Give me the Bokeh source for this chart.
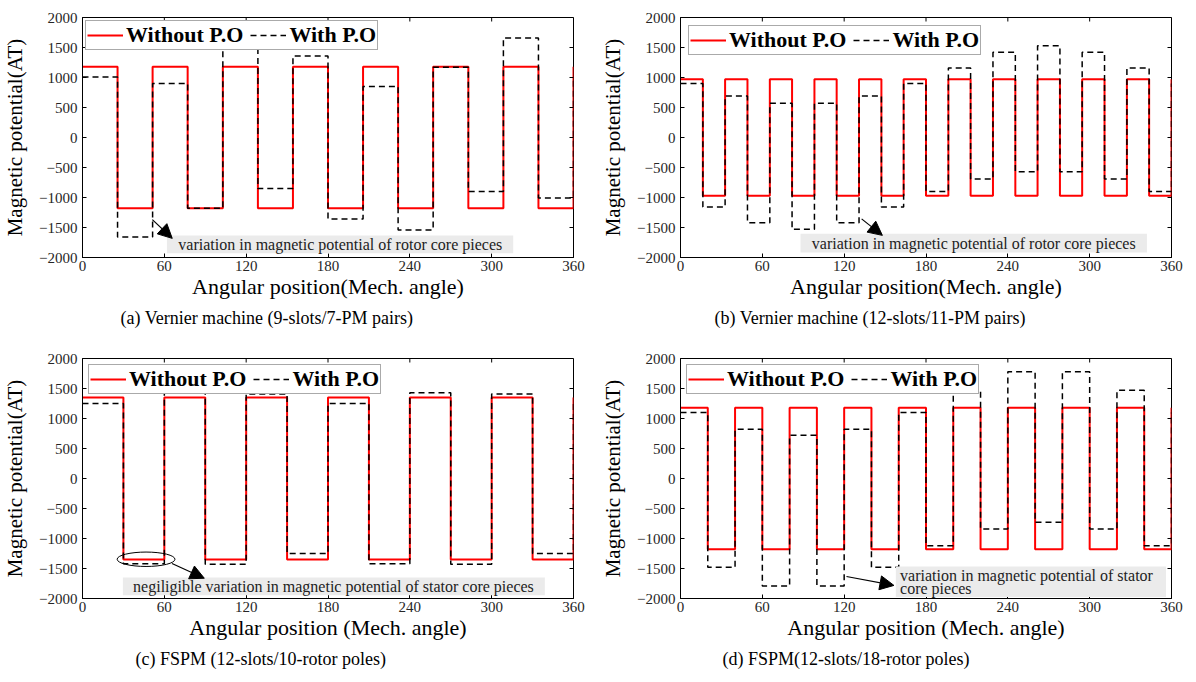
from bokeh.plotting import figure
from bokeh.models import (Legend, LegendItem, FixedTicker, Range1d, Title,
                          Arrow, NormalHead, BoxAnnotation, Label)
from bokeh.layouts import gridplot
from bokeh.embed import file_html
from bokeh.resources import INLINE

SERIF = "'Liberation Serif', serif"

# ---------------- data ----------------
X_TICKS = [0, 60, 120, 180, 240, 300, 360]
Y_TICKS = [-2000, -1500, -1000, -500, 0, 500, 1000, 1500, 2000]
LEGEND_LABELS = ["Without P.O", "With P.O"]
Y_LABEL = "Magnetic potential(AT)"

# (a) Vernier 9-slots/7-PM pairs
A_EDGES = [0, 25.7, 51.4, 77.1, 102.9, 128.6, 154.3, 180, 205.7, 231.4, 257.1,
           282.9, 308.6, 334.3, 360]
A_RED = [1180, -1180, 1180, -1180, 1180, -1180, 1180, -1180, 1180, -1180, 1180,
         -1180, 1180, -1180]
A_BLACK = [1010, -1660, 900, -1180, 1540, -850, 1360, -1360, 850, -1540, 1170,
           -900, 1660, -1010]

# (b) Vernier 12-slots/11-PM pairs
B_EDGES = [0, 16.4, 32.7, 49.1, 65.5, 81.8, 98.2, 114.5, 130.9, 147.3, 163.6, 180,
           196.4, 212.7, 229.1, 245.5, 261.8, 278.2, 294.5, 310.9, 327.3, 343.6, 360]
B_RED = [970, -970, 970, -970, 970, -970, 970, -970, 970, -970, 970, -970,
         970, -970, 970, -970, 970, -970, 970, -970, 970, -970]
B_BLACK = [900, -1160, 690, -1420, 570, -1530, 570, -1420, 690, -1160, 900,
           -900, 1160, -690, 1420, -570, 1530, -570, 1420, -690, 1160, -900]

# (c) FSPM 12-slots/10-rotor poles
C_EDGES = [0, 30, 60, 90, 120, 150, 180, 210, 240, 270, 300, 330, 360]
C_RED = [1350, -1350, 1350, -1350, 1350, -1350, 1350, -1350, 1350, -1350, 1350, -1350]
C_BLACK = [1250, -1420, 1430, -1430, 1410, -1250, 1250, -1420, 1430, -1430, 1410, -1250]

# (d) FSPM 12-slots/18-rotor poles
D_EDGES = [0, 20, 40, 60, 80, 100, 120, 140, 160, 180, 200, 220, 240, 260, 280,
           300, 320, 340, 360]
D_RED = [1180, -1180, 1180, -1180, 1180, -1180, 1180, -1180, 1180, -1180, 1180,
         -1180, 1180, -1180, 1180, -1180, 1180, -1180]
D_BLACK = [1100, -1480, 820, -1790, 720, -1790, 820, -1480, 1100, -1120, 1470,
           -840, 1780, -730, 1780, -840, 1470, -1120]

CAPTIONS = ["(a) Vernier machine (9-slots/7-PM pairs)",
            "(b) Vernier machine (12-slots/11-PM pairs)",
            "(c) FSPM (12-slots/10-rotor poles)",
            "(d) FSPM(12-slots/18-rotor poles)"]
X_LABELS = ["Angular position(Mech. angle)", "Angular position(Mech. angle)",
            "Angular position (Mech. angle)", "Angular position (Mech. angle)"]

TICK_PX = 4
FRAME_W, FRAME_H = 491, 240


def panel(edges, red, black, xlabel, caption, cap_offset, box, notes, arrow,
          ellipse=None, leg_margin=5):
    p = figure(width=598, height=341, output_backend="svg", toolbar_location=None,
               x_range=Range1d(0, 360), y_range=Range1d(-2000, 2000),
               min_border_left=82, min_border_right=25, min_border_top=17,
               min_border_bottom=84, background_fill_color="white")
    p.grid.visible = False
    p.outline_line_color = "black"
    p.outline_line_width = 1

    r = p.step(edges, red + red[:1], mode="after", line_color="#ff0000", line_width=2)
    b = p.step(edges, black + black[:1], mode="after", line_color="black",
               line_width=1.5, line_dash="6 4")

    for ax in (p.xaxis[0], p.yaxis[0]):
        ax.major_tick_in = TICK_PX
        ax.major_tick_out = 0
        ax.minor_tick_in = 0
        ax.minor_tick_out = 0
        ax.axis_line_color = "black"
        ax.major_tick_line_color = "black"
        ax.major_label_text_font = SERIF
        ax.major_label_text_font_size = "15px"
        ax.major_label_text_color = "#262626"
        ax.axis_label_text_font = SERIF
        ax.axis_label_text_font_style = "normal"
        ax.axis_label_text_color = "black"
    p.xaxis.ticker = FixedTicker(ticks=X_TICKS)
    p.yaxis.ticker = FixedTicker(ticks=Y_TICKS)
    p.xaxis.axis_label = xlabel
    p.xaxis.axis_label_text_font_size = "22px"
    p.xaxis.axis_label_standoff = 0
    p.xaxis.major_label_standoff = 3
    p.yaxis.axis_label = Y_LABEL
    p.yaxis.axis_label_text_font_size = "21px"
    p.yaxis.axis_label_standoff = 9
    p.yaxis.major_label_standoff = 5

    # box-style inward ticks on top and right edges
    dy = TICK_PX * 4000 / FRAME_H
    dx = TICK_PX * 360 / FRAME_W
    p.segment(x0=X_TICKS, y0=[2000] * len(X_TICKS), x1=X_TICKS,
              y1=[2000 - dy] * len(X_TICKS), line_color="black", line_width=1)
    p.segment(x0=[360] * len(Y_TICKS), y0=Y_TICKS, x1=[360 - dx] * len(Y_TICKS),
              y1=Y_TICKS, line_color="black", line_width=1)

    # annotation box + texts
    p.add_layout(BoxAnnotation(left=box[0], right=box[1], bottom=box[2], top=box[3],
                               fill_color="#ebebeb", fill_alpha=1, line_alpha=0))
    for (nx, ny, txt, align) in notes:
        p.add_layout(Label(x=nx, y=ny, text=txt, text_font=SERIF, text_font_size="16px",
                           text_color="#222222", text_align=align, text_baseline="middle"))
    p.add_layout(Arrow(end=NormalHead(size=14, fill_color="black", line_color="black"),
                       x_start=arrow[0], y_start=arrow[1], x_end=arrow[2], y_end=arrow[3],
                       line_color="black", line_width=1.2))
    if ellipse is not None:
        p.ellipse(x=[ellipse[0]], y=[ellipse[1]], width=[ellipse[2]], height=[ellipse[3]],
                  fill_alpha=0, line_color="black", line_width=1)

    leg = Legend(items=[LegendItem(label=LEGEND_LABELS[0], renderers=[r]),
                        LegendItem(label=LEGEND_LABELS[1], renderers=[b])],
                 orientation="horizontal", location="top_left",
                 label_text_font=SERIF, label_text_font_style="bold",
                 label_text_font_size="22px", label_text_color="black",
                 glyph_width=36, glyph_height=16, label_standoff=3, spacing=7,
                 padding=1, margin=leg_margin, border_line_color="#555555",
                 border_line_width=1.5, background_fill_alpha=1,
                 label_height=18)
    p.add_layout(leg)

    p.add_layout(Title(text=caption, align="left", offset=cap_offset,
                       text_font=SERIF, text_font_size="18px",
                       text_font_style="normal", text_color="black", standoff=8),
                 "below")
    return p


pa = panel(A_EDGES, A_RED, A_BLACK, X_LABELS[0], CAPTIONS[0], 38,
           (61.9, 315.8, -1929, -1632),
           [(189, -1780, "variation in magnetic potential of rotor core pieces", "center")],
           (51.2, -1368, 65.8, -1681), leg_margin=3)
pb = panel(B_EDGES, B_RED, B_BLACK, X_LABELS[1], CAPTIONS[1], 34,
           (88, 342, -1917, -1604),
           [(215, -1760, "variation in magnetic potential of rotor core pieces", "center")],
           (132.8, -1356, 148, -1631), leg_margin=8)
pc = panel(C_EDGES, C_RED, C_BLACK, X_LABELS[2], CAPTIONS[2], 53,
           (29.6, 339, -1945, -1651),
           [(184, -1798, "negiligible variation in magnetic potential of stator core pieces", "center")],
           (65.6, -1417, 89.3, -1662), ellipse=(46.6, -1346, 42.4, 240), leg_margin=6)
pd = panel(D_EDGES, D_RED, D_BLACK, X_LABELS[3], CAPTIONS[3], 42,
           (157.9, 356, -1975, -1468),
           [(161, -1610, "variation in magnetic potential of stator", "left"),
            (161, -1830, "core pieces", "left")],
           (121.7, -1633, 156.5, -1782), leg_margin=6)

grid = gridplot([[pa, pb], [pc, pd]], toolbar_location=None)
open("out.html", "w").write(file_html(grid, INLINE))
